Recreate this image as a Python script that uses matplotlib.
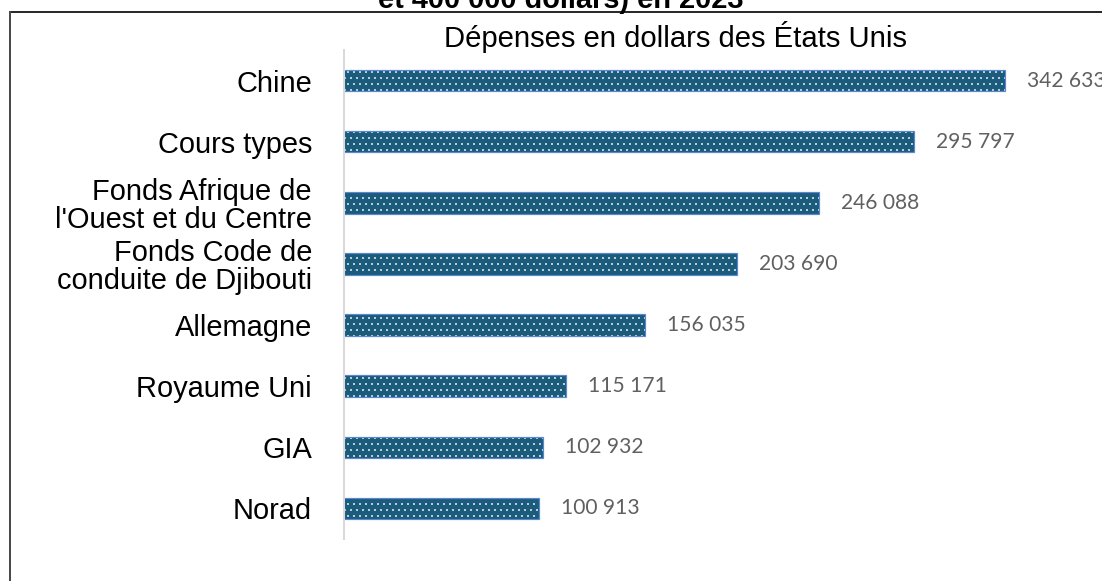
import matplotlib
matplotlib.use("Agg")
import matplotlib.pyplot as plt
from matplotlib.lines import Line2D

categories = ["Chine", "Cours types", "Fonds Afrique de\nl'Ouest et du Centre",
              "Fonds Code de\nconduite de Djibouti", "Allemagne", "Royaume Uni", "GIA", "Norad"]
values = [342633, 295797, 246088, 203690, 156035, 115171, 102932, 100913]
value_labels = ["342 633", "295 797", "246 088", "203 690", "156 035", "115 171", "102 932", "100 913"]
subtitle = "Dépenses en dollars des États Unis"
title_tail = "et 400 000 dollars) en 2023"

W, H = 1102, 581
DPI = 72
plt.rcParams['hatch.linewidth'] = 0.6
fig = plt.figure(figsize=(W / DPI, H / DPI), dpi=DPI)

ax = fig.add_axes([344 / W, 1 - 539 / H, (1100 - 344) / W, 489 / H])
ypos = list(range(len(categories)))
ax.barh(ypos, values, height=0.35, color="#1b5c7c", edgecolor="white",
        linewidth=0, hatch="..")
ax.barh(ypos, values, height=0.35, fill=False, edgecolor="#5b86d0", linewidth=1.2)

ax.set_ylim(len(categories) - 0.5, -0.5)
ax.set_xlim(0, 392000)
ax.set_yticks(ypos)
ax.set_yticklabels(categories, fontsize=29, family="Liberation Sans")
for t in ax.get_yticklabels():
    t.set_linespacing(1.0)
ax.tick_params(axis="y", length=0, pad=32)
ax.set_xticks([])
for s in ["top", "right", "bottom"]:
    ax.spines[s].set_visible(False)
ax.spines["left"].set_color("#d9d9d9")
ax.spines["left"].set_linewidth(2)

for y, v, lab in zip(ypos, values, value_labels):
    ax.annotate(lab, xy=(v, y), xytext=(22, 0), textcoords="offset points",
                va="center", ha="left", fontsize=21, color="#606060", family="Lato")

fig.text(676 / W, 1 - 47 / H, subtitle, ha="center", va="baseline",
         fontsize=29.3, family="Liberation Sans")
fig.text(561 / W, 1 - 8 / H, title_tail, ha="center", va="baseline",
         fontsize=29, family="Liberation Sans", weight="bold")

# outer frame (cropped)
fig.add_artist(Line2D([10 / W, 1.01], [1 - 12 / H, 1 - 12 / H],
                      transform=fig.transFigure, color="#2a2a2a", lw=2))
fig.add_artist(Line2D([10 / W, 10 / W], [1 - 12 / H, -0.01],
                      transform=fig.transFigure, color="#4a4a4a", lw=2))

fig.savefig("out.png", dpi=DPI)
